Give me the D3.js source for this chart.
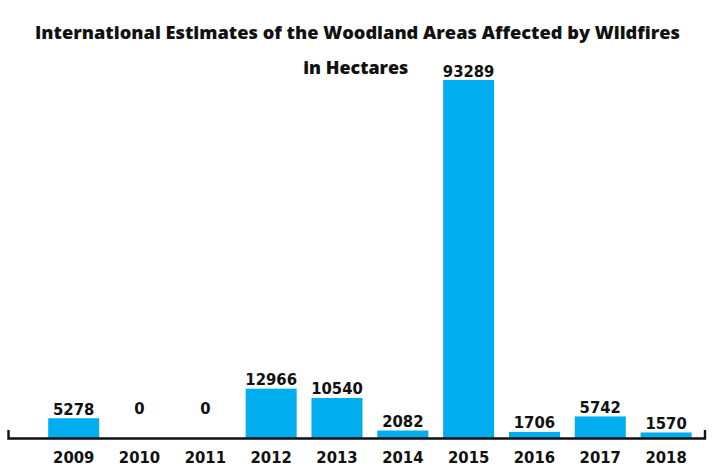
<!DOCTYPE html>
<html>
<head>
<meta charset="utf-8">
<script src="https://cdn.jsdelivr.net/npm/d3@7"></script>
<style>
  html, body { margin: 0; padding: 0; background: #ffffff; }
  svg { display: block; }
</style>
</head>
<body>
<svg id="chart" width="712" height="469"></svg>
<script>
const years = ["2009","2010","2011","2012","2013","2014","2015","2016","2017","2018"];
const hectares = [5278, 0, 0, 12966, 10540, 2082, 93289, 1706, 5742, 1570];
const titleLines = ["International Estimates of the Woodland Areas Affected by Wildfires", "in Hectares"];

const data = years.map((y, i) => ({ year: y, value: hectares[i] }));

const svg = d3.select("#chart");
const baseY = 438.5;

const x = d3.scaleBand()
  .domain(years)
  .range([40.8, 699])
  .paddingInner(0.225)
  .paddingOuter(0.1125);

const y = d3.scaleLinear()
  .domain([0, d3.max(hectares)])
  .range([baseY, 80]);

const labelFont = "'DejaVu Sans Condensed', 'DejaVu Sans', sans-serif";

// bars
svg.append("g").selectAll("rect")
  .data(data)
  .join("rect")
  .attr("x", d => x(d.year))
  .attr("width", x.bandwidth())
  .attr("y", d => y(d.value))
  .attr("height", d => y(0) - y(d.value))
  .attr("fill", "#00adef");

// value labels
svg.append("g").selectAll("text")
  .data(data)
  .join("text")
  .attr("x", d => x(d.year) + x.bandwidth() / 2)
  .attr("y", d => d.value === 0 ? baseY - 24.5 : y(d.value) - 3.5)
  .attr("text-anchor", "middle")
  .attr("font-family", labelFont)
  .attr("font-stretch", "condensed")
  .attr("font-weight", "bold")
  .attr("font-size", 16.5)
  .attr("fill", "#111")
  .text(d => d.value);

// x axis baseline with end ticks
svg.append("path")
  .attr("d", `M8.5,430 V${baseY} H705 V430`)
  .attr("fill", "none")
  .attr("stroke", "#111")
  .attr("stroke-width", 2.4);

// year labels
const xAxis = d3.axisBottom(x).tickSize(0).tickPadding(0);
const gx = svg.append("g").attr("transform", `translate(0,${baseY})`).call(xAxis);
gx.select(".domain").remove();
gx.selectAll("text")
  .attr("dy", null)
  .attr("y", 24.5)
  .attr("font-family", labelFont)
  .attr("font-stretch", "condensed")
  .attr("font-weight", "bold")
  .attr("font-size", 16.5)
  .attr("fill", "#111");

// title
svg.append("text")
  .attr("x", 357.5).attr("y", 39)
  .attr("text-anchor", "middle")
  .attr("font-family", "'Open Sans', 'Noto Sans', sans-serif")
  .attr("font-weight", 800)
  .attr("font-size", 18)
  .attr("textLength", 645)
  .attr("lengthAdjust", "spacingAndGlyphs")
  .attr("fill", "#111")
  .text(titleLines[0]);

svg.append("text")
  .attr("x", 355.8).attr("y", 74)
  .attr("text-anchor", "middle")
  .attr("font-family", "'Open Sans', 'Noto Sans', sans-serif")
  .attr("font-weight", 800)
  .attr("font-size", 18)
  .attr("textLength", 105)
  .attr("lengthAdjust", "spacingAndGlyphs")
  .attr("fill", "#111")
  .text(titleLines[1]);
</script>
</body>
</html>
